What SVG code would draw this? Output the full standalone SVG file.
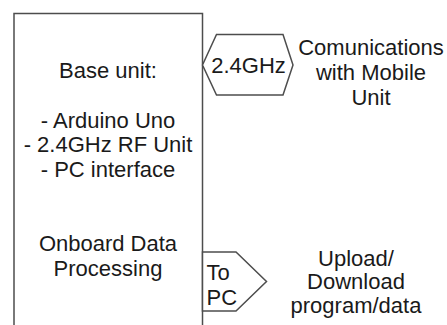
<svg xmlns="http://www.w3.org/2000/svg" width="447" height="325" viewBox="0 0 447 325">
  <style>
    .shape { fill: #ffffff; stroke: #4d4d4d; stroke-width: 1.5; stroke-linejoin: miter; }
    .t { font-family: "Liberation Sans", Arial, sans-serif; font-size: 22px; fill: #1a1a1a; }
    .c { text-anchor: middle; }
  </style>
  <rect width="447" height="325" fill="#ffffff"/>
  <g id="connectors"/>
  <g id="base-unit">
    <rect class="shape" x="14" y="13.5" width="188.5" height="330"/>
    <text class="t c" x="108" y="78">Base unit:</text>
    <text class="t c" x="108" y="127.5">- Arduino Uno</text>
    <text class="t c" x="108" y="152">- 2.4GHz RF Unit</text>
    <text class="t c" x="108" y="176.5">- PC interface</text>
    <text class="t c" x="108" y="251">Onboard Data</text>
    <text class="t c" x="108" y="275.5">Processing</text>
  </g>
  <g id="rf-port">
    <polygon class="shape" points="202.5,65 216.5,34.5 283,34.5 293,65 283,95 216.5,95"/>
    <text class="t c" x="248.5" y="72.5">2.4GHz</text>
  </g>
  <g id="rf-label">
    <text class="t c" x="371" y="54.5">Comunications</text>
    <text class="t c" x="371" y="79.5">with Mobile</text>
    <text class="t c" x="371" y="104.5">Unit</text>
  </g>
  <g id="pc-port">
    <polygon class="shape" points="202.5,252 236,252 266.5,281.5 236,311 202.5,311"/>
    <text class="t" x="206.5" y="280">To</text>
    <text class="t" x="206.5" y="305">PC</text>
  </g>
  <g id="pc-label">
    <text class="t c" x="356" y="265.5">Upload/</text>
    <text class="t c" x="356" y="289">Download</text>
    <text class="t c" x="356" y="312.5">program/data</text>
  </g>
</svg>
